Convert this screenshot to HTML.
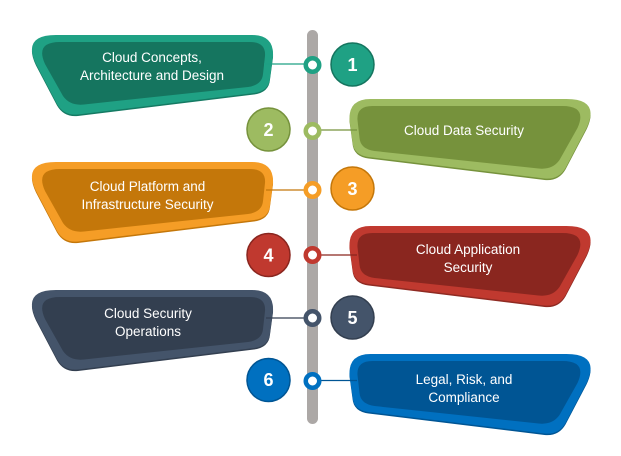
<!DOCTYPE html>
<html><head><meta charset="utf-8"><style>
html,body{margin:0;padding:0;background:#fff}
svg{display:block}
text{font-family:"Liberation Sans",sans-serif;font-size:13.5px;fill:#fff;text-anchor:middle}
.n{font-size:18px;font-weight:bold}
</style></head><body>
<svg width="621" height="456" viewBox="0 0 621 456" xmlns="http://www.w3.org/2000/svg">
<defs>
<path id="o" d="M56,35 L252,35 Q274,35 273,56 L270,78 Q269,91 254,93 L78,114.500 Q64,116 57,104 L36,64 Q22,35 56,35Z"/>
<path id="i" d="M60,42 L250,42 Q266,42 265,56 L263,74 Q262,85 248,87 L84,104.500 Q70,106 63,96 L45,64 Q35,42 60,42Z"/>
</defs>
<rect x="307" y="30" width="11" height="394" rx="5.500" fill="#aca8a6"/>

<g>
<use href="#o" y="1.500" fill="#157a63"/><use href="#o" fill="#1fa184"/><use href="#i" fill="#15755f"/>
<line x1="264" y1="64" x2="310" y2="64" stroke="#1fa184" stroke-width="1.300"/>
<circle cx="312.500" cy="65" r="6.750" fill="#fff" stroke="#1fa184" stroke-width="4.500"/>
<circle cx="352.500" cy="64.500" r="21.500" fill="#1fa184" stroke="#15755f" stroke-width="1.500"/>
<text class="n" x="352.500" y="71">1</text>
<text x="152" y="62">Cloud Concepts,</text><text x="152" y="80">Architecture and Design</text></g>

<g><g transform="translate(622.500,64) scale(-1,1)"><use href="#o" y="1.500" fill="#76923c"/><use href="#o" fill="#9dbb61"/><use href="#i" fill="#76923c"/></g>
<line x1="316" y1="130" x2="357" y2="130" stroke="#76923c" stroke-width="1.300"/>
<circle cx="312.500" cy="131" r="6.750" fill="#fff" stroke="#9dbb61" stroke-width="4.500"/>
<circle cx="268.500" cy="129.500" r="21.500" fill="#9dbb61" stroke="#76923c" stroke-width="1.500"/>
<text class="n" x="268.500" y="136">2</text>
<text x="464" y="135">Cloud Data Security</text></g>

<g><g transform="translate(0,127)"><use href="#o" y="1.500" fill="#c4770a"/><use href="#o" fill="#f59d26"/><use href="#i" fill="#c4770a"/></g>
<line x1="266" y1="190" x2="310" y2="190" stroke="#c4770a" stroke-width="1.300"/>
<circle cx="312.500" cy="190" r="6.750" fill="#fff" stroke="#f59d26" stroke-width="4.500"/>
<circle cx="352.500" cy="188.500" r="21.500" fill="#f59d26" stroke="#c4770a" stroke-width="1.500"/>
<text class="n" x="352.500" y="195">3</text>
<text x="147.500" y="191">Cloud Platform and</text><text x="147.500" y="209">Infrastructure Security</text></g>

<g><g transform="translate(622.500,191) scale(-1,1)"><use href="#o" y="1.500" fill="#8f2a22"/><use href="#o" fill="#c0392f"/><use href="#i" fill="#8a261f"/></g>
<line x1="316" y1="255" x2="357" y2="255" stroke="#8a261f" stroke-width="1.300"/>
<circle cx="312.500" cy="255" r="6.750" fill="#fff" stroke="#c0392f" stroke-width="4.500"/>
<circle cx="268.500" cy="255" r="21.500" fill="#c0392f" stroke="#8a261f" stroke-width="1.500"/>
<text class="n" x="268.500" y="261.500">4</text>
<text x="468" y="254">Cloud Application</text><text x="468" y="272">Security</text></g>

<g><g transform="translate(0,255)"><use href="#o" y="1.500" fill="#333f50"/><use href="#o" fill="#44546a"/><use href="#i" fill="#333f50"/></g>
<line x1="266" y1="318" x2="310" y2="318" stroke="#333f50" stroke-width="1.300"/>
<circle cx="312.500" cy="318" r="6.750" fill="#fff" stroke="#44546a" stroke-width="4.500"/>
<circle cx="352.500" cy="317.500" r="21.500" fill="#44546a" stroke="#333f50" stroke-width="1.500"/>
<text class="n" x="352.500" y="324">5</text>
<text x="148" y="318">Cloud Security</text><text x="148" y="336">Operations</text></g>

<g><g transform="translate(622.500,319) scale(-1,1)"><use href="#o" y="1.500" fill="#005594"/><use href="#o" fill="#0070c0"/><use href="#i" fill="#005594"/></g>
<line x1="316" y1="380.500" x2="357" y2="380.500" stroke="#005594" stroke-width="1.300"/>
<circle cx="312.500" cy="381" r="6.750" fill="#fff" stroke="#0070c0" stroke-width="4.500"/>
<circle cx="268.500" cy="380" r="21.500" fill="#0070c0" stroke="#005594" stroke-width="1.500"/>
<text class="n" x="268.500" y="386">6</text>
<text x="464" y="384">Legal, Risk, and</text><text x="464" y="402">Compliance</text></g>
</svg>
</body></html>
